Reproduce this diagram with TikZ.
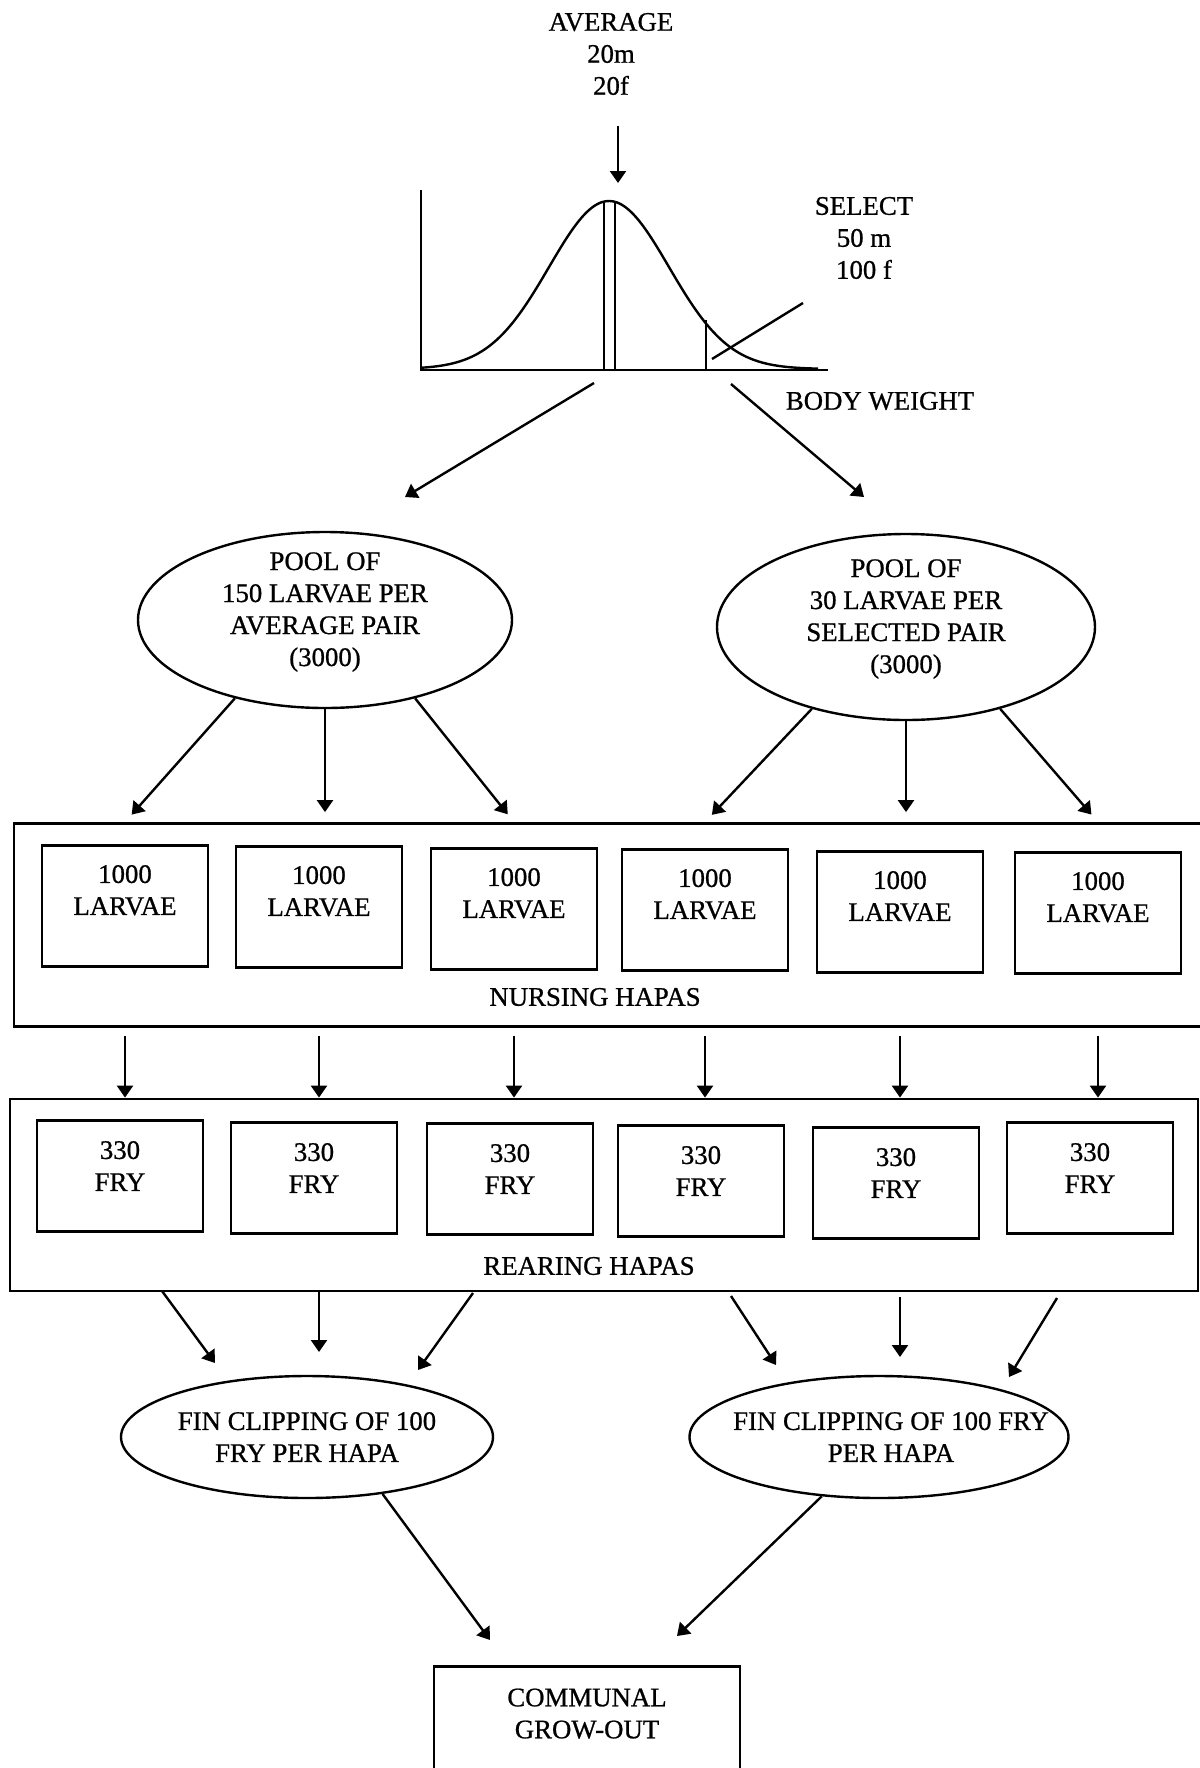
\documentclass[tikz,border=0pt]{standalone}
\usepackage{fontspec}
\setmainfont{Liberation Serif}[FakeBold=0.8]
\usetikzlibrary{arrows.meta,shapes.geometric}

\begin{document}
\begin{tikzpicture}[x=0.5pt, y=-0.5pt, font=\fontsize{13.4}{16}\selectfont,
  flow/.style={arrows={-{Triangle[length=6pt, width=8pt]}}, line width=1.2pt},
  hapa/.style={draw, line width=1.4pt},
  tank/.style={draw, line width=1.4pt, align=center, minimum width=83pt},
  pool/.style={draw, ellipse, line width=1.2pt, align=center, inner sep=0pt}]
\useasboundingbox (0,0) rectangle (1200,1768);
\clip (0,0) rectangle (1200,1768);

%body weight distribution
\node[align=center] at (611,54) (avg) {AVERAGE\\20m\\20f};
\node[align=center] at (864,238) (sel) {SELECT\\50 m\\100 f};
\node at (880,401) (bw) {BODY WEIGHT};
\coordinate (peak) at (618,183);
\coordinate (origin) at (421,370);
\draw[flow, shorten <=12pt] (avg.south -| peak) -- (peak);
\draw[line width=1.2pt] (421,190) -- (origin) -- (828,370);
\draw[line width=1.2pt] plot[domain=421:818, samples=100, smooth]
  (\x, {369-168*exp(-0.5*(((\x-609)/60)^2))});
\draw[line width=1pt] (604,201) -- (604,370) (615,201) -- (615,370);
\draw[line width=1pt] (706,320) -- (706,370);
\draw[line width=1.2pt] (712,359) -- (803,303);

%split into the two pools
\coordinate (bwA) at (594,383);
\coordinate (toA) at (405,497);
\coordinate (bwS) at (731,384);
\coordinate (toS) at (864,497);
\draw[flow] (bwA) -- (toA);
\draw[flow] (bwS) -- (toS);

\node[pool, text height=53pt, text depth=7pt, minimum width=187pt, minimum height=88pt]
  at (325,620) (poolA) {POOL OF\\150 LARVAE PER\\AVERAGE PAIR\\(3000)};
\node[pool, text height=53pt, text depth=7pt, minimum width=189pt, minimum height=93pt]
  at (906,627) (poolS) {POOL OF\\30 LARVAE PER\\SELECTED PAIR\\(3000)};

%nursing hapas
\node[hapa, minimum width=600pt, minimum height=101.5pt] at (614,925) (nursing) {};
\node at (595,997) (nurselbl) {NURSING HAPAS};
\foreach \x/\y [count=\i] in {125/906, 319/907, 514/909, 705/910, 900/912, 1098/913}
  \node[tank, minimum height=60.5pt] at (\x,\y) (l\i) {1000\\LARVAE\\~};

\foreach \a/\i in {-139/1, -41/3}
  \draw[flow, shorten >=5pt] (poolA.\a) -- (l\i |- nursing.north);
\foreach \a/\i in {-139/4, -41/6}
  \draw[flow, shorten >=5pt] (poolS.\a) -- (l\i |- nursing.north);
\draw[flow, shorten >=5pt] (poolA.south) -- (poolA.south |- nursing.north);
\draw[flow, shorten >=5pt] (poolS.south) -- (poolS.south |- nursing.north);

%rearing hapas
\node[hapa, minimum width=594pt, minimum height=96pt] at (604,1195) (rearing) {};
\node at (589,1266) (rearlbl) {REARING HAPAS};
\foreach \x/\y [count=\i] in {120/1176, 314/1178, 510/1179, 701/1181, 896/1183, 1090/1178}
  \node[tank, minimum height=55.5pt] at (\x,\y) (f\i) {330\\FRY\\[-6pt]~};

\foreach \i in {1,...,6}
  \draw[flow, shorten <=4pt] (l\i |- nursing.south) -- (l\i |- rearing.north);

%fin clipping
\node[pool, minimum width=186pt, minimum height=61pt] at (307,1437) (finA)
  {FIN CLIPPING OF 100\\FRY PER HAPA};
\node[pool, minimum width=189.5pt, minimum height=61pt] at (879,1437) (finS)
  {\makebox[0pt]{\hspace{12pt}FIN CLIPPING OF 100 FRY}\\\makebox[0pt]{\hspace{12pt}PER HAPA}};

\coordinate (ra1) at (162,1291);
\coordinate (fa1) at (215,1363);
\coordinate (ra2) at (319,1292);
\coordinate (fa2) at (319,1352);
\coordinate (ra3) at (473,1293);
\coordinate (fa3) at (418,1370);
\coordinate (rs1) at (731,1296);
\coordinate (fs1) at (776,1365);
\coordinate (rs2) at (900,1297);
\coordinate (fs2) at (900,1357);
\coordinate (rs3) at (1057,1298);
\coordinate (fs3) at (1009,1377);
\foreach \s/\e in {ra1/fa1, ra2/fa2, ra3/fa3, rs1/fs1, rs2/fs2, rs3/fs3}
  \draw[flow] (\s) -- (\e);

%communal grow-out
\node[tank, anchor=north, minimum width=153pt, minimum height=70pt] at (587,1665) (grow)
  {COMMUNAL\\GROW-OUT\\[7pt]~};
\coordinate (inGa) at (490,1640);
\coordinate (inGs) at (677,1636);
\draw[flow] (finA.-37) -- (inGa);
\draw[flow] (finS.-134) -- (inGs);

\end{tikzpicture}
\end{document}
